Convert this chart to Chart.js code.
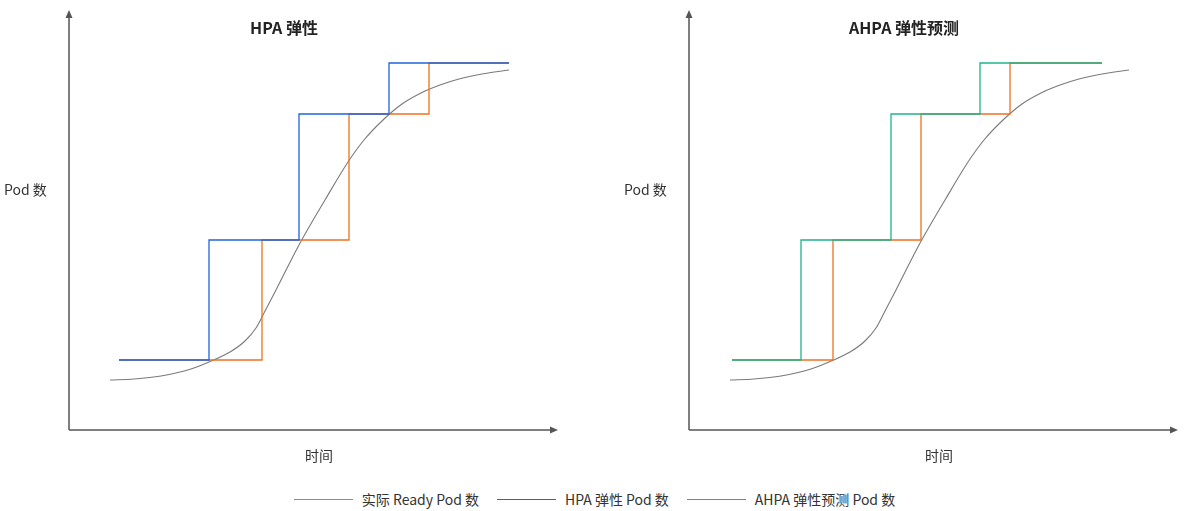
<!DOCTYPE html>
<html>
<head>
<meta charset="utf-8">
<script src="https://cdn.jsdelivr.net/npm/chart.js@4.4.1/dist/chart.umd.min.js"></script>
<style>
  html, body { margin: 0; padding: 0; background: #fff; }
  body { width: 1189px; height: 511px; position: relative; overflow: hidden;
         font-family: "Noto Sans CJK SC", "Noto Sans", sans-serif; }
  #left { position: absolute; left: 0; top: 0; }
  #right { position: absolute; left: 620px; top: 0; }
  #legend { position: absolute; left: 0; width: 1189px; top: 489px; height: 20px;
            display: flex; justify-content: center; align-items: center;
            font-size: 14px; color: #333; }
  .item { display: flex; align-items: center; margin: 0 9px; }
  .swatch { display: inline-block; width: 59px; height: 1px; margin-right: 9px; }
</style>
</head>
<body>
<canvas id="left" width="600" height="475"></canvas>
<canvas id="right" width="569" height="475"></canvas>
<div id="legend"></div>
<script>
// ---- data (time units, pod units) ----
const seriesNames = ['实际 Ready Pod 数', 'HPA 弹性 Pod 数', 'AHPA 弹性预测 Pod 数'];
const panelTitles = ['HPA 弹性', 'AHPA 弹性预测'];
const yAxisLabel = 'Pod 数';
const xAxisLabel = '时间';

// smooth load curve (same in both panels)
const curveTime = [4.1, 6.5, 9.2, 12.2, 14.0, 16.1, 17.6, 18.7, 19.5, 20.7, 23.0, 25.6, 27.9, 29.5, 31.4, 33.3, 35.2, 37.1, 39.0, 41.3, 44.0];
const curvePods = [5.0, 5.1, 5.4, 6.1, 6.8, 7.8, 8.9, 10.2, 11.7, 14.0, 18.5, 23.0, 26.8, 29.0, 31.0, 32.6, 33.7, 34.5, 35.1, 35.6, 36.0];

// step levels
const podLevels = [7.0, 19.0, 31.6, 36.7, 36.7];

// left panel (HPA)
const hpaTime = [5.0, 14.0, 23.0, 32.0, 44.0];
const hpaReadyTime = [5.0, 19.3, 28.0, 36.0, 44.0];

// right panel (AHPA)
const ahpaTime = [4.3, 11.2, 20.2, 29.1, 41.3];
const ahpaReadyTime = [4.3, 14.4, 23.2, 32.1, 41.3];

const X_MAX = 48.9, Y_MAX = 42;

const COLORS = { ready: '#F0701E', hpa: '#1F64DC', ahpa: '#1EB48A', curve: '#7a7a7a', axis: '#555555' };

function pts(xs, ys) { return xs.map((x, i) => ({ x: x, y: ys[i] })); }

const decor = {
  id: 'decor',
  afterDraw(chart, args, opts) {
    const ctx = chart.ctx;
    const xs = chart.scales.x, ys = chart.scales.y;
    const ox = xs.getPixelForValue(0), oy = ys.getPixelForValue(0);
    const tx = xs.getPixelForValue(X_MAX), ty = ys.getPixelForValue(Y_MAX);
    ctx.save();
    ctx.strokeStyle = COLORS.axis; ctx.fillStyle = COLORS.axis; ctx.lineWidth = 1.5;
    ctx.beginPath();
    ctx.moveTo(ox, oy); ctx.lineTo(ox, ty + 6);
    ctx.moveTo(ox, oy); ctx.lineTo(tx - 6, oy);
    ctx.stroke();
    ctx.beginPath();
    ctx.moveTo(ox, ty); ctx.lineTo(ox - 3.5, ty + 8); ctx.lineTo(ox + 3.5, ty + 8); ctx.closePath(); ctx.fill();
    ctx.beginPath();
    ctx.moveTo(tx, oy); ctx.lineTo(tx - 8, oy - 3.5); ctx.lineTo(tx - 8, oy + 3.5); ctx.closePath(); ctx.fill();

    ctx.textBaseline = 'middle';
    ctx.fillStyle = '#222';
    ctx.font = 'bold 16px "Noto Sans CJK SC", sans-serif';
    ctx.textAlign = 'center';
    ctx.fillText(opts.title, ox + 215, 28);
    ctx.fillStyle = '#333';
    ctx.font = '14px "Noto Sans CJK SC", sans-serif';
    ctx.textAlign = 'left';
    ctx.fillText(yAxisLabel, 4, 190);
    ctx.textAlign = 'center';
    ctx.fillText(xAxisLabel, ox + 250, 456);
    ctx.restore();
  }
};

function makeChart(id, title, stepTime, readyTime, stepColor, rightPad) {
  return new Chart(document.getElementById(id), {
    type: 'line',
    data: {
      datasets: [
        { label: 'step', data: pts(stepTime, podLevels), stepped: 'before', borderColor: stepColor, borderWidth: 1.3, pointRadius: 0, fill: false },
        { label: 'ready', data: pts(readyTime, podLevels), stepped: 'before', borderColor: COLORS.ready, borderWidth: 1.3, pointRadius: 0, fill: false },
        { label: 'curve', data: pts(curveTime, curvePods), borderColor: COLORS.curve, borderWidth: 1.1, pointRadius: 0, fill: false, cubicInterpolationMode: 'monotone' }
      ]
    },
    options: {
      responsive: false, animation: false,
      layout: { autoPadding: false, padding: { left: 69, right: rightPad, top: 10, bottom: 45 } },
      scales: {
        x: { type: 'linear', min: 0, max: X_MAX, display: false },
        y: { type: 'linear', min: 0, max: Y_MAX, display: false }
      },
      plugins: { legend: { display: false }, tooltip: { enabled: false }, decor: { title: title } }
    },
    plugins: [decor]
  });
}

makeChart('left', panelTitles[0], hpaTime, hpaReadyTime, COLORS.hpa, 42);
makeChart('right', panelTitles[1], ahpaTime, ahpaReadyTime, COLORS.ahpa, 11);

// shared legend
const legendColors = [COLORS.ready, COLORS.hpa, COLORS.ahpa];
const legend = document.getElementById('legend');
seriesNames.forEach((name, i) => {
  const item = document.createElement('div'); item.className = 'item';
  const sw = document.createElement('span'); sw.className = 'swatch'; sw.style.backgroundColor = legendColors[i];
  const tx = document.createElement('span'); tx.textContent = name;
  item.appendChild(sw); item.appendChild(tx); legend.appendChild(item);
});
</script>
</body>
</html>
